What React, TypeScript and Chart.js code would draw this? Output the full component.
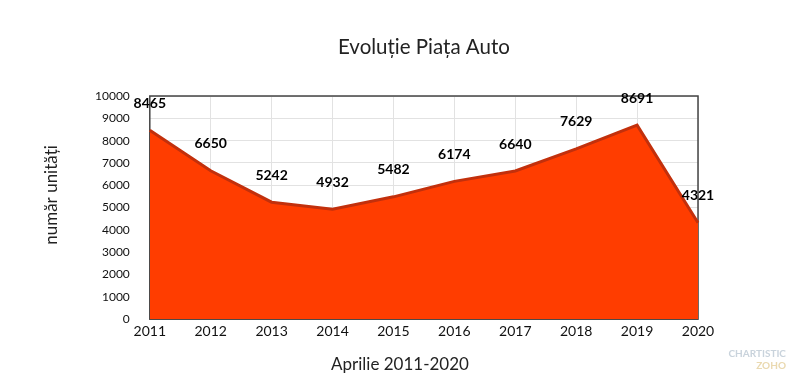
import React, { useEffect, useRef } from "react";
import { Chart, registerables } from "chart.js";

Chart.register(...registerables);

const categories = ["2011", "2012", "2013", "2014", "2015", "2016", "2017", "2018", "2019", "2020"];
const values = [8465, 6650, 5242, 4932, 5482, 6174, 6640, 7629, 8691, 4321];
const yTicks = [0, 1000, 2000, 3000, 4000, 5000, 6000, 7000, 8000, 9000, 10000];

const chartTitle = "Evoluție Piața Auto";
const xTitle = "Aprilie 2011-2020";
const yTitle = "număr unități";

const FONT = "Lato, 'Open Sans', sans-serif";

const borderPlugin = {
  id: "plotBorder",
  beforeDatasetsDraw(chart: any) {
    const { ctx, chartArea } = chart;
    ctx.save();
    ctx.strokeStyle = "#444444";
    ctx.lineWidth = 1.5;
    ctx.strokeRect(chartArea.left, chartArea.top, chartArea.right - chartArea.left, chartArea.bottom - chartArea.top);
    ctx.restore();
  },
};

const textPlugin = {
  id: "texts",
  afterDraw(chart: any) {
    const { ctx, chartArea } = chart;
    ctx.save();
    ctx.fillStyle = "#222222";
    ctx.textAlign = "center";
    ctx.textBaseline = "middle";
    ctx.font = `20.5px ${FONT}`;
    ctx.fillText(chartTitle, (chartArea.left + chartArea.right) / 2, 47);
    ctx.font = `17px ${FONT}`;
    ctx.fillText(xTitle, 400, 365);
    ctx.translate(52, 195);
    ctx.rotate(-Math.PI / 2);
    ctx.fillText(yTitle, 0, 0);
    ctx.restore();
  },
};

const labelPlugin = {
  id: "valueLabels",
  afterDatasetsDraw(chart: any) {
    const { ctx } = chart;
    const meta = chart.getDatasetMeta(0);
    ctx.save();
    ctx.fillStyle = "#000000";
    ctx.font = `bold 14px ${FONT}`;
    ctx.textAlign = "center";
    ctx.textBaseline = "middle";
    meta.data.forEach((pt: any, i: number) => {
      ctx.fillText(String(values[i]), pt.x, pt.y - 27);
    });
    ctx.restore();
  },
};

export default function App() {
  const ref = useRef<HTMLCanvasElement>(null);
  useEffect(() => {
    document.body.style.margin = "0";
    const chart = new Chart(ref.current!, {
      type: "line",
      data: {
        labels: categories,
        datasets: [
          {
            data: values,
            fill: "origin",
            backgroundColor: "#FF3D00",
            borderColor: "#C2300C",
            borderWidth: 3,
            pointRadius: 0,
            tension: 0,
          },
        ],
      },
      options: {
        animation: false,
        responsive: false,
        maintainAspectRatio: false,
        layout: { padding: { left: 75, right: 102, top: 96, bottom: 47 } },
        plugins: {
          legend: { display: false },
          tooltip: { enabled: false },
          title: { display: false },
        },
        scales: {
          x: {
            offset: false,
            grid: { color: "#e2e2e2", drawTicks: false },
            border: { display: false },
            ticks: { color: "#111111", font: { family: FONT, size: 14 }, padding: 4, maxRotation: 0 },
          },
          y: {
            min: 0,
            max: 10000,
            afterBuildTicks: (axis: any) => {
              axis.ticks = yTicks.map((v) => ({ value: v }));
            },
            grid: { color: "#e2e2e2", drawTicks: false },
            border: { display: false },
            ticks: {
              color: "#111111",
              font: { family: FONT, size: 12 },
              padding: 20,
              callback: (v: any) => String(v),
            },
          },
        },
      },
      plugins: [borderPlugin, labelPlugin, textPlugin],
    });
    return () => chart.destroy();
  }, []);
  return (
    <div style={{ position: "relative", width: 800, height: 391 }}>
      <canvas ref={ref} width={800} height={391} />
      <div
        style={{
          position: "absolute",
          right: 14,
          bottom: 20,
          fontFamily: "Lato, sans-serif",
          fontSize: 10,
          fontWeight: "bold",
          color: "#c9d3dc",
          textAlign: "right",
          lineHeight: "12px",
        }}
      >
        <div>CHARTISTIC</div>
        <div style={{ color: "#ead9b0" }}>ZOHO</div>
      </div>
    </div>
  );
}
